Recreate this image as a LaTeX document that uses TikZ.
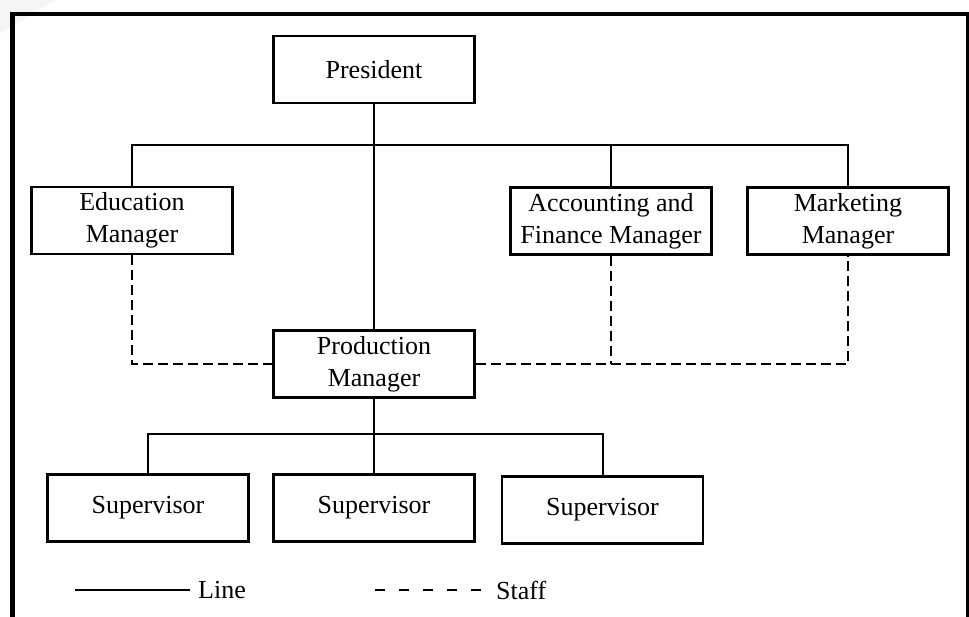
\documentclass[tikz,border=0pt]{standalone}
\usepackage{fontspec}
\setmainfont{Liberation Serif}
\begin{document}
\begin{tikzpicture}[x=1pt,y=-1pt,
  box/.style={draw, line width=2.2pt, minimum width=201pt, minimum height=67pt, inner sep=0pt, align=center, font=\fontsize{26}{32}\selectfont},
  conn/.style={line width=2pt},
  staffline/.style={line width=2pt, dash pattern=on 10pt off 5pt},
  legenddash/.style={line width=2pt, dash pattern=on 10pt off 14pt},
  lbl/.style={font=\fontsize{26}{32}\selectfont, inner sep=0pt, anchor=west},
  framestroke/.style={line width=4pt, black}]
\useasboundingbox (0,0) rectangle (969,617);
\fill[gray!8] (0,0) -- (56,0) -- (0,33) -- cycle;

% frame
\draw[framestroke] (10,14) -- (969,14);
\draw[framestroke, line width=4.5pt] (12.5,12) -- (12.5,617);
\draw[framestroke, line width=3pt] (967,12) -- (967,617);

% nodes
\node[box] (pres) at (374,69.5) {President};
\node[box] (edu) at (132,220.5) {Education\\Manager};
\node[box] (acc) at (611,221) {Accounting and\\Finance Manager};
\node[box] (mkt) at (848,221) {Marketing\\Manager};
\node[box] (prod) at (374,364) {Production\\Manager};
\node[box] (s1) at (148,508) {Supervisor};
\node[box] (s2) at (374,508) {Supervisor};
\node[box] (s3) at (602.5,510) {Supervisor};

\coordinate (topbus) at (0,145);
\coordinate (lowbus) at (0,434);

% line connectors
\draw[conn] (pres.south) -- (prod.north);
\draw[conn] (edu.north) -- (edu.north |- topbus) -| (mkt.north);
\draw[conn] (acc.north) -- (acc.north |- topbus);
\draw[conn] (prod.south) -- (s2.north);
\draw[conn] (s1.north) -- (s1.north |- lowbus) -| (s3.north);

% staff connectors
\draw[staffline] (edu.south) |- (prod.west);
\draw[staffline] (prod.east) -| (mkt.south);
\draw[staffline] (acc.south) -- (acc.south |- prod.east);

% legend
\node[lbl] (linelbl) at (198,590) {Line};
\node[lbl] (stafflbl) at (496,590) {Staff};
\coordinate (linestart) at (75,590);
\coordinate (lineend) at (190,590);
\coordinate (staffstart) at (375,590);
\coordinate (staffend) at (482,590);
\draw[conn] (linestart) -- (lineend);
\draw[legenddash] (staffstart) -- (staffend);
\end{tikzpicture}
\end{document}
